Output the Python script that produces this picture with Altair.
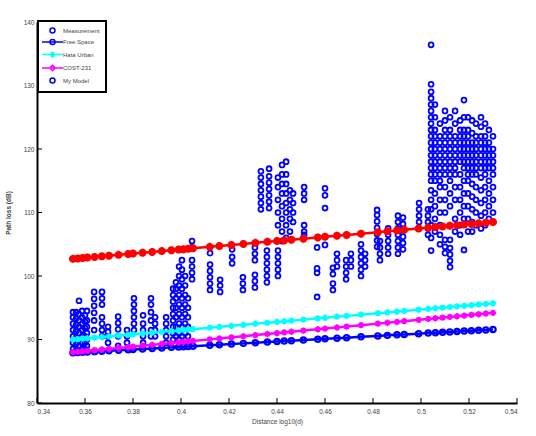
import altair as alt
import pandas as pd

# ---------------- data ----------------
meas_dist = [0.355, 0.3563, 0.3575, 0.3588, 0.36, 0.3608, 0.3638, 0.3671, 0.3696, 0.3738,
             0.3775, 0.3804, 0.3842, 0.3875, 0.3892, 0.3938, 0.3967, 0.3979, 0.3992, 0.4004,
             0.4017, 0.4029, 0.4046, 0.4121, 0.4163, 0.4213, 0.4258, 0.4308, 0.4333, 0.4358,
             0.4367, 0.4404, 0.4421, 0.4438, 0.4454, 0.4467, 0.4513, 0.4567, 0.46, 0.4633,
             0.465, 0.4688, 0.4708, 0.475, 0.4767, 0.4817, 0.4829, 0.4863, 0.4904, 0.4925,
             0.4992, 0.5029, 0.5042, 0.5058, 0.5079, 0.51, 0.5121, 0.5142, 0.5163, 0.5179,
             0.5196, 0.5213, 0.5229, 0.525, 0.5267, 0.5283, 0.53]
meas_loss = [
    [88.5, 89.5, 90.5, 91.5, 92.5, 93.5, 94.3],
    [88.3, 89.3, 90.3, 91.3, 92.3, 93.3, 94.3],
    [89, 90, 91, 92, 93, 94, 96.1],
    [88.5, 89.5, 90.5, 91.5, 92.5, 93.5, 94.5],
    [88.5, 89.5, 90.5, 91.8, 92.8, 93.8],
    [89, 90, 91, 92, 93, 94.5],
    [91.5, 93.0, 94.2, 95.3, 96.4, 97.5],
    [90.5, 91.5, 92.5, 93.5, 95.5, 96.5, 97.5],
    [89.5, 90.5, 91.2, 92.0],
    [89.0, 90.5, 91.6, 92.6, 93.6],
    [89.5, 90.5, 91.5],
    [91.5, 92.5, 93.5, 94.5, 95.5, 96.5],
    [89.5, 90.5, 91.5, 92.5, 93.8],
    [90.5, 91.5, 93, 94.3, 95.5, 96.5],
    [90.5, 91.5, 92.5, 93.5],
    [89.5, 90.5, 91.5, 92.5, 93.5],
    [90, 91, 92, 93, 94, 95, 96, 97, 98],
    [90.5, 92, 93.5, 95, 96.5, 98, 99],
    [90, 91, 92.5, 94, 95.5, 97, 98.5, 100, 101.5],
    [90.5, 92, 93.5, 95, 96.5, 98, 99.5, 101, 102.5],
    [91, 92.5, 94, 95.5, 97, 98.5, 100],
    [90.5, 92, 93.5, 95, 96.5],
    [99.5, 100.5, 101.5, 102.5, 104.5, 105.5],
    [97.8, 98.8, 99.8, 100.8, 101.8, 103.6],
    [97.5, 98.5, 99.4],
    [102, 103, 104.2],
    [97.8, 98.8, 99.8],
    [98.2, 99.2, 100.2, 102.5, 103.5, 104.5],
    [110.5, 111.5, 112.5, 113.5, 114.5, 115.5, 116.5],
    [99, 100, 101, 102, 103, 104],
    [110.7, 111.7, 112.7, 113.7, 114.7, 115.7, 116.9],
    [100, 101, 102, 103, 104, 108, 110, 112, 114, 115.5],
    [105.5, 107, 109, 111, 113, 114.5, 116, 117.5],
    [106, 108, 110, 111.5, 113, 114.5, 116, 118],
    [107, 109, 110.5, 112, 113.5],
    [108.5, 110, 111.5, 113],
    [106.5, 107, 108, 112, 113, 114],
    [96.7, 100.5, 101.2, 104.5],
    [104.9, 110.7, 112.7, 113.8],
    [97.8, 98.8, 100.3, 101.3],
    [101.5, 102.5, 103.5],
    [99.5, 100.5, 101.5, 102.5],
    [101.5, 102.5, 103.5],
    [100, 101, 102, 103, 104, 105],
    [101.5, 102.5, 103.5],
    [104.6, 105.6, 106.6, 107.6, 108.6, 109.6, 110.4],
    [102.5, 103.5, 104.5, 105.5],
    [103.5, 104.5, 105.5, 106.5, 107.5],
    [103.5, 104.5, 105.5, 106.5, 107.5, 108.5, 109.5],
    [104.2, 105.2, 106.2, 107.2, 108.2, 109.2],
    [107.5, 108.5, 109.5, 110.5, 111.5],
    [106.5, 107.5, 108.5, 109.5, 110.5],
    [104, 106, 108, 110.5, 112, 113.5, 115, 116, 117, 118, 119, 120, 121, 122, 123, 124, 125, 126, 127, 128, 129, 130.2, 136.4],
    [107, 109, 111, 113, 115, 116, 117, 118, 119, 120, 121, 122, 123, 125, 127],
    [105, 106.5, 108, 110, 112, 114, 115, 116, 117, 118, 119, 120, 121, 122, 124],
    [103.6, 104.6, 105.7, 110, 112, 114, 116, 117, 118, 119, 120, 121, 122, 123, 124.5, 126],
    [101.4, 102.4, 103.4, 104.4, 105.7, 111, 113, 115, 116, 117, 118, 119, 120, 121, 122, 123, 125],
    [107, 109, 112, 114, 116, 117, 118, 119, 120, 121, 122, 124, 126],
    [106.5, 108, 110, 112, 114, 116, 118, 119, 120, 121, 122, 123, 124.5],
    [104.1, 109, 111, 113, 115, 117, 118, 119, 120, 121, 122, 123, 125, 127.7],
    [107, 109, 111, 113, 115, 116, 117, 118, 119, 120, 121, 122, 123, 125],
    [107, 108.5, 110.5, 112.5, 114.5, 116, 117, 118, 119, 120, 121, 122.5, 124.5],
    [108, 110, 112, 114, 116, 117, 118, 119, 120, 121, 122, 124],
    [107.5, 109.5, 111.5, 113.5, 115.5, 117, 118, 119, 120, 121, 122, 123.5, 125],
    [108, 110, 112, 114, 116, 117, 118, 119, 120, 121, 122, 124],
    [109, 111, 113, 115, 117, 118, 119, 120, 121, 123],
    [110, 112, 114, 116, 117, 118, 119, 120, 122],
]

line_dist = [0.355, 0.357, 0.359, 0.361, 0.364, 0.367, 0.370, 0.374, 0.378, 0.380,
             0.384, 0.388, 0.392, 0.396, 0.399, 0.401, 0.403, 0.405, 0.412, 0.416,
             0.421, 0.426, 0.431, 0.436, 0.440, 0.443, 0.446, 0.451, 0.457, 0.460,
             0.465, 0.469, 0.475, 0.482, 0.486, 0.490, 0.493, 0.499, 0.503, 0.506,
             0.509, 0.512, 0.515, 0.518, 0.521, 0.524, 0.527, 0.530]
my_model = [102.70, 102.77, 102.83, 102.90, 103.00, 103.10, 103.20, 103.33, 103.46, 103.53,
            103.66, 103.79, 103.92, 104.06, 104.16, 104.22, 104.29, 104.36, 104.59, 104.72,
            104.88, 105.05, 105.22, 105.38, 105.51, 105.61, 105.71, 105.88, 106.08, 106.18,
            106.34, 106.47, 106.67, 106.90, 107.04, 107.17, 107.27, 107.47, 107.60, 107.70,
            107.80, 107.90, 108.00, 108.10, 108.19, 108.29, 108.39, 108.49]
hata_urban = [90.00, 90.07, 90.13, 90.20, 90.29, 90.39, 90.49, 90.62, 90.75, 90.82,
              90.95, 91.08, 91.21, 91.34, 91.43, 91.50, 91.56, 91.63, 91.86, 91.99,
              92.15, 92.31, 92.48, 92.64, 92.77, 92.87, 92.97, 93.13, 93.33, 93.42,
              93.59, 93.72, 93.91, 94.14, 94.27, 94.40, 94.50, 94.69, 94.82, 94.92,
              95.02, 95.12, 95.22, 95.31, 95.41, 95.51, 95.61, 95.71]
cost231 = [88.00, 88.07, 88.14, 88.21, 88.32, 88.42, 88.53, 88.67, 88.81, 88.89,
           89.03, 89.17, 89.31, 89.45, 89.56, 89.63, 89.70, 89.77, 90.02, 90.16,
           90.34, 90.51, 90.69, 90.87, 91.01, 91.12, 91.22, 91.40, 91.61, 91.72,
           91.89, 92.04, 92.25, 92.50, 92.64, 92.78, 92.89, 93.10, 93.24, 93.35,
           93.45, 93.56, 93.66, 93.77, 93.88, 93.98, 94.09, 94.20]
free_space = [87.90, 87.94, 87.98, 88.03, 88.09, 88.15, 88.22, 88.30, 88.38, 88.43,
              88.51, 88.59, 88.68, 88.76, 88.82, 88.87, 88.91, 88.95, 89.10, 89.18,
              89.29, 89.39, 89.50, 89.60, 89.69, 89.75, 89.81, 89.92, 90.04, 90.11,
              90.21, 90.29, 90.42, 90.57, 90.65, 90.74, 90.80, 90.92, 91.01, 91.07,
              91.13, 91.20, 91.26, 91.32, 91.39, 91.45, 91.51, 91.58]

series_names = ["Measurement", "Free Space", "Hata Urban", "COST-231", "My Model"]
legend_colors = ["#0000ff", "#0000ff", "#00ffff", "#ff00ff", "#0000ff"]
x_ticks = [0.34, 0.36, 0.38, 0.40, 0.42, 0.44, 0.46, 0.48, 0.50, 0.52, 0.54]
y_ticks = [80, 90, 100, 110, 120, 130, 140]

# ---------------- frames ----------------
rows = []
for d, ys in zip(meas_dist, meas_loss):
    for v in ys:
        rows.append({"d": d, "loss": v})
df_meas = pd.DataFrame(rows)
df_lines = pd.DataFrame({"d": line_dist, "fs": free_space, "hata": hata_urban,
                         "cost": cost231, "model": my_model})
df_legend = pd.DataFrame({"series": series_names, "d": [0.44] * 5, "loss": [60.0] * 5})
df_xt = pd.DataFrame({"t": x_ticks})
df_yt = pd.DataFrame({"t": y_ticks})

FONT = "Liberation Sans"
W, H = 480, 381

xscale = alt.Scale(domain=[0.34, 0.54], nice=False, zero=False)
yscale = alt.Scale(domain=[80, 140], nice=False, zero=False)

xaxis = alt.Axis(values=x_ticks, format="~g", grid=False, ticks=False, domainColor="black",
                 domainWidth=2, labelFont=FONT, labelFontSize=6.5, labelColor="#444",
                 labelPadding=5, title="Distance log10(d)", titleFont=FONT, titleFontSize=6.5,
                 titleFontWeight="normal", titleColor="#444", titlePadding=4)
yaxis = alt.Axis(values=y_ticks, format="d", grid=False, ticks=False, domainColor="black",
                 domainWidth=2, labelFont=FONT, labelFontSize=6.5, labelColor="#444",
                 labelPadding=3, title="Path loss (dB)", titleFont=FONT, titleFontSize=6.5,
                 titleFontWeight="bold", titleColor="#444", titlePadding=12)

X = alt.X("d:Q", scale=xscale, axis=xaxis)
Y = alt.Y("loss:Q", scale=yscale, axis=yaxis)

meas = alt.Chart(df_meas).mark_point(shape="circle", filled=False, size=24, strokeWidth=1.8,
                                     color="#0000ff", opacity=1).encode(x=X, y=Y)

STAR = "M-1,0L1,0M0,-1L0,1M-0.7,-0.7L0.7,0.7M-0.7,0.7L0.7,-0.7"


def model_layer(field, color, shape, size, sw, filled=False):
    base = alt.Chart(df_lines).encode(
        x=alt.X("d:Q", scale=xscale),
        y=alt.Y(f"{field}:Q", scale=yscale))
    ln = base.mark_line(color=color, strokeWidth=2.5)
    pt = base.mark_point(shape=shape, filled=filled, size=size, strokeWidth=sw,
                         color=color, opacity=1)
    return ln + pt


fs_l = model_layer("fs", "#0000ff", "circle", 28, 2.2)
hata_l = model_layer("hata", "#00ffff", STAR, 40, 1.8)
cost_l = model_layer("cost", "#ff00ff", STAR, 40, 1.8)
model_l = model_layer("model", "#ff0000", STAR, 64, 2.6)

P_CIRC = "M1,0A1,1,0,1,1,-1,0A1,1,0,1,1,1,0Z"
P_FS = "M-4.2,0L4.2,0M1,0A1,1,0,1,1,-1,0A1,1,0,1,1,1,0Z"
P_HATA = "M-4.2,0L4.2,0M0,-1.1L0,1.1M-0.8,-0.8L0.8,0.8M-0.8,0.8L0.8,-0.8"
P_COST = "M-4.2,0L4.2,0M0,-1.1L1.1,0L0,1.1L-1.1,0Z"

legend_layer = alt.Chart(df_legend).mark_point(filled=False, strokeWidth=1.5,
                                                clip=True, opacity=1).encode(
    x=alt.X("d:Q", scale=xscale),
    y=alt.Y("loss:Q", scale=yscale),
    color=alt.Color("series:N",
                    scale=alt.Scale(domain=series_names, range=legend_colors),
                    legend=alt.Legend(title=None, orient="none", legendX=1, legendY=-1,
                                      strokeColor="black", padding=6, fillColor="white",
                                      labelFont=FONT, labelFontSize=6, labelColor="#444",
                                      symbolSize=25, symbolOffset=5, labelOffset=7,
                                      rowPadding=0.5, symbolStrokeWidth=1.5)),
    shape=alt.Shape("series:N",
                    scale=alt.Scale(domain=series_names,
                                    range=[P_CIRC, P_FS, P_HATA, P_COST, P_CIRC])),
)

xt = alt.Chart(df_xt).mark_rule(color="black", strokeWidth=1).encode(
    x=alt.X("t:Q", scale=xscale), y=alt.value(H), y2=alt.value(H - 5))
yt = alt.Chart(df_yt).mark_rule(color="black", strokeWidth=1).encode(
    y=alt.Y("t:Q", scale=yscale), x=alt.value(0), x2=alt.value(5))

chart = alt.layer(meas, fs_l, hata_l, cost_l, model_l, legend_layer, xt, yt).properties(
    width=W, height=H,
    autosize=alt.AutoSizeParams(type="none"),
    padding={"left": 37, "top": 22, "right": 19, "bottom": 33},
).configure_view(stroke=None).configure_legend(strokeWidth=2)

chart.save("out.html", embed_options={"renderer": "svg", "actions": False})
